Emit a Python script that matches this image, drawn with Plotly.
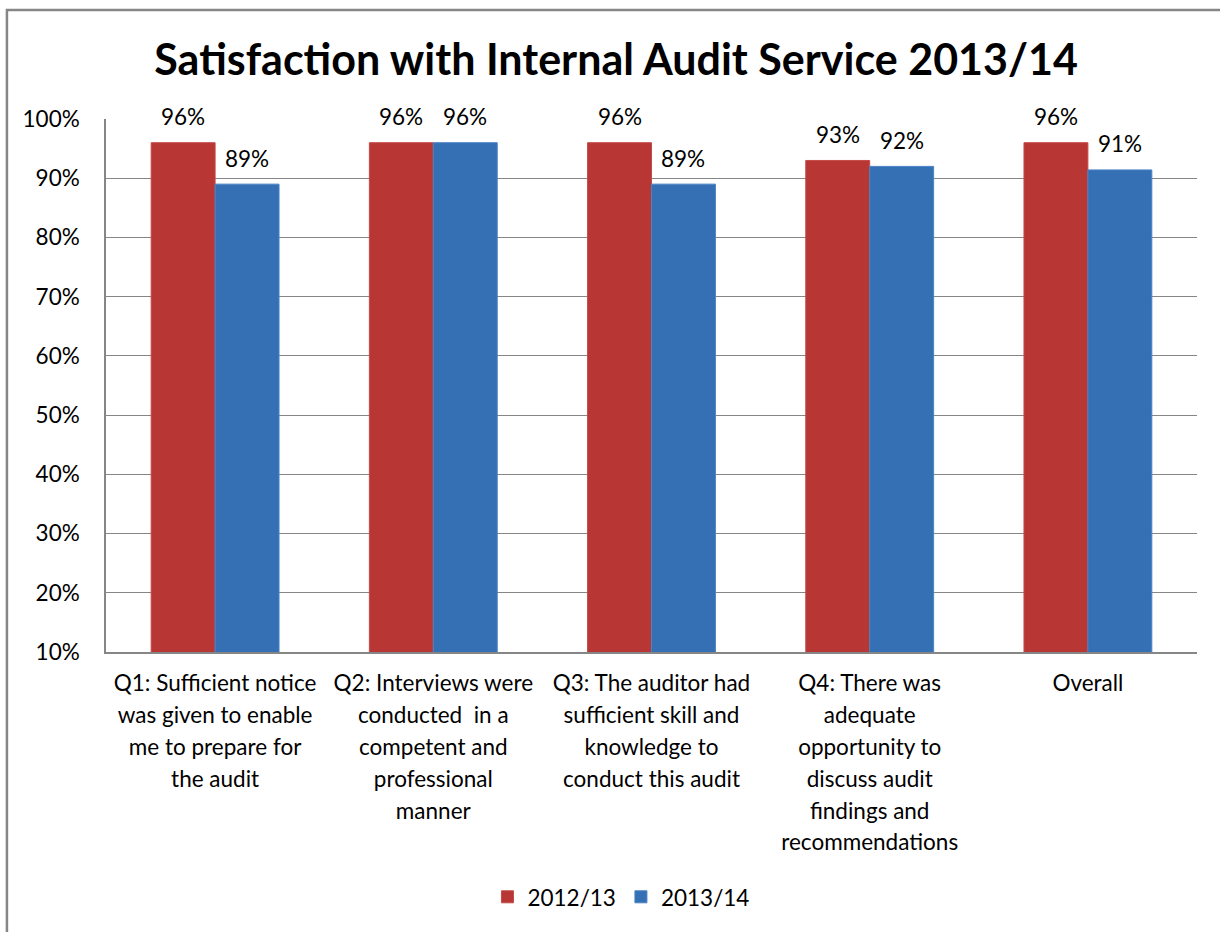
import plotly.graph_objects as go

categories = [
    ["Q1: Sufficient notice", "was given to enable", "me to prepare for", "the audit"],
    ["Q2: Interviews were", "conducted  in a", "competent and", "professional", "manner"],
    ["Q3: The auditor had", "sufficient skill and", "knowledge to", "conduct this audit"],
    ["Q4: There was", "adequate", "opportunity to", "discuss audit", "findings and", "recommendations"],
    ["Overall"],
]
series_names = ["2012/13", "2013/14"]
values_2012 = [96, 96, 96, 93, 96]
values_2013 = [89, 96, 89, 92, 91.4]
y_ticks = [10, 20, 30, 40, 50, 60, 70, 80, 90, 100]

RED = "#B83634"
BLUE = "#3570B5"
FONT = "Lato"
BAR_W = 0.293

x_idx = list(range(len(categories)))
ticktext = ["<br>".join(f'<span style="font-size:22.5px">{ln}</span>' for ln in lines) for lines in categories]

fig = go.Figure()
fig.add_trace(go.Bar(x=x_idx, y=values_2012, name=series_names[0], width=BAR_W, offset=-BAR_W,
                     marker=dict(color=RED, line=dict(color="#C44A47", width=1))))
fig.add_trace(go.Bar(x=x_idx, y=values_2013, name=series_names[1], width=BAR_W, offset=0,
                     marker=dict(color=BLUE, line=dict(color="#4A82C4", width=1))))

annotations = []
for i, (a, b) in enumerate(zip(values_2012, values_2013)):
    for xv, yv in ((i - BAR_W / 2, a), (i + BAR_W / 2, b)):
        annotations.append(dict(x=xv, y=yv, xref="x", yref="y", text=f"{round(yv)}%",
                                showarrow=False, yshift=26, font=dict(family=FONT, size=22.5, color="#000")))

fig.update_layout(
    width=1220, height=932,
    margin=dict(l=106, r=23, t=119, b=280),
    paper_bgcolor="white", plot_bgcolor="white",
    title=dict(text="<b>Satisfaction with Internal Audit Service 2013/14</b>",
               x=0.505, xanchor="center", y=0.936, yanchor="middle",
               font=dict(family=FONT, size=43, color="#000")),
    barmode="overlay",
    showlegend=True,
    legend=dict(orientation="h", x=0.472, xanchor="center", y=-0.46, yanchor="middle",
                font=dict(family=FONT, size=22.5, color="#000"), itemwidth=30, traceorder="normal"),
    annotations=annotations,
    shapes=[dict(type="rect", xref="paper", yref="paper", x0=-0.0908, x1=1.2, y0=-0.8, y1=1.2045,
                 line=dict(color="#868686", width=2.5), fillcolor="rgba(0,0,0,0)", layer="below")],
)
fig.update_xaxes(range=[-0.5, 4.5], tickvals=x_idx, ticktext=ticktext, showgrid=False,
                 showline=True, linecolor="#868686", linewidth=1.5, ticks="",
                 tickfont=dict(family=FONT, size=24.5, color="#000"), ticklabelstandoff=8, tickangle=0)
fig.update_yaxes(range=[10, 100], tickvals=y_ticks, ticktext=[f"{v}%" for v in y_ticks],
                 showgrid=True, gridcolor="#868686", gridwidth=1, showline=True, linecolor="#868686",
                 linewidth=1.5, ticks="", zeroline=False,
                 tickfont=dict(family=FONT, size=22.5, color="#000"), ticklabelstandoff=20)

fig.write_html("out.html")
